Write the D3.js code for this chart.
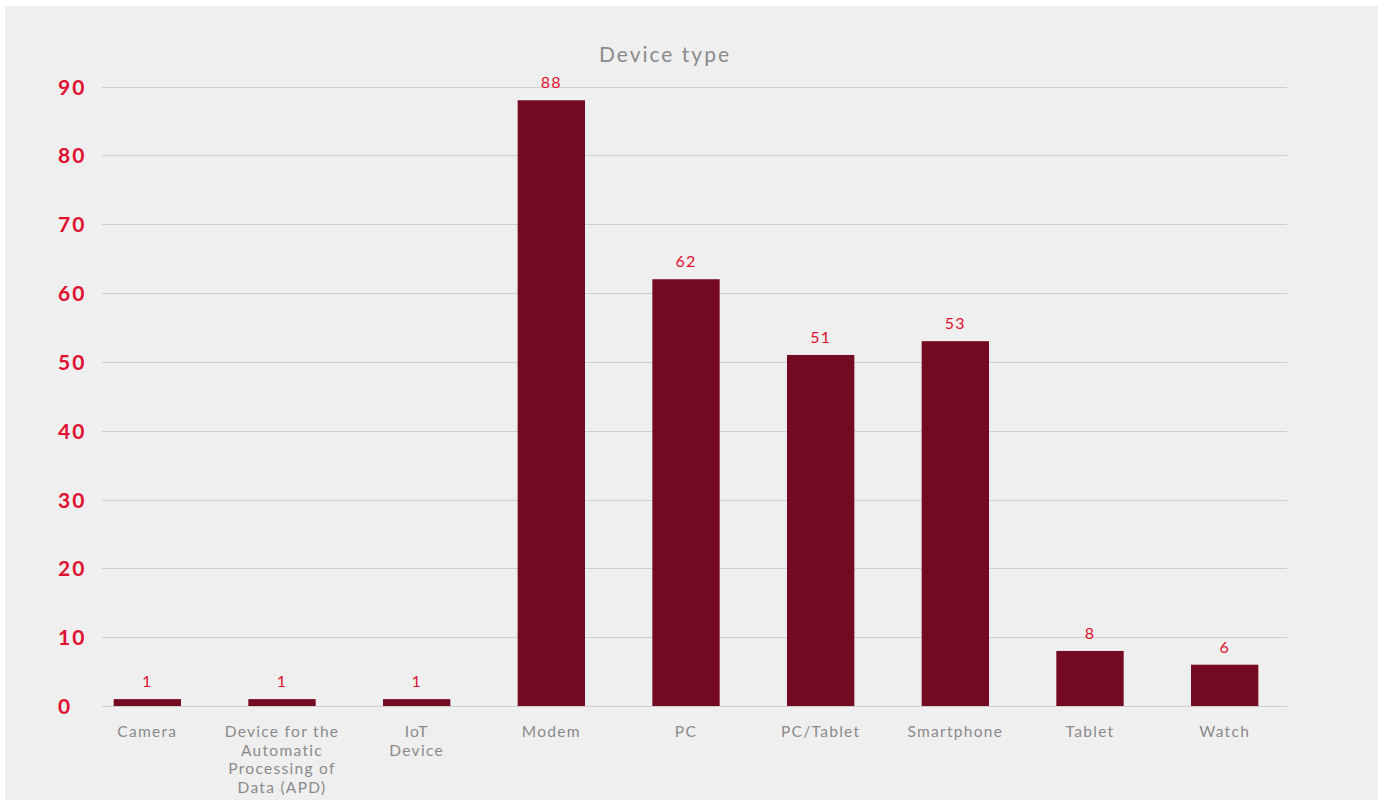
<!DOCTYPE html>
<html><head><meta charset="utf-8">
<script src="https://cdn.jsdelivr.net/npm/d3@7"></script>
<style>
html,body{margin:0;padding:0;background:#fff;}
svg{display:block;}
</style></head>
<body>
<svg id="chart" width="1384" height="800"></svg>
<script>
const categories = ["Camera", "Device for the Automatic Processing of Data (APD)", "IoT Device", "Modem", "PC", "PC/Tablet", "Smartphone", "Tablet", "Watch"];
const categoryLines = [["Camera"], ["Device for the", "Automatic", "Processing of", "Data (APD)"], ["IoT", "Device"], ["Modem"], ["PC"], ["PC/Tablet"], ["Smartphone"], ["Tablet"], ["Watch"]];
const values = [1, 1, 1, 88, 62, 51, 53, 8, 6];
const yTicks = [0, 10, 20, 30, 40, 50, 60, 70, 80, 90];
const title = "Device type";

const svg = d3.select("#chart");
const font = "Lato, 'Open Sans', sans-serif";

svg.append("rect").attr("x", 5).attr("y", 6).attr("width", 1373).attr("height", 800)
  .attr("fill", "#efefef");

const x = d3.scaleBand().domain(categories).range([80, 1292])
  .paddingInner(0.5).paddingOuter(0.25);
const y = d3.scaleLinear().domain([0, 90]).range([706, 86.5]);

const gridLeft = 102, gridRight = 1287;

// gridlines
svg.append("g").selectAll("line").data(yTicks).join("line")
  .attr("x1", gridLeft).attr("x2", gridRight)
  .attr("y1", d => Math.round(y(d)) + 0.5).attr("y2", d => Math.round(y(d)) + 0.5)
  .attr("stroke", "#cfcfcf").attr("stroke-width", 1.2);

// y axis labels (left-aligned)
const yAxis = d3.axisLeft(y).tickValues(yTicks).tickSize(0).tickPadding(0);
const gy = svg.append("g").attr("transform", "translate(58,0)").call(yAxis);
gy.select(".domain").remove();
gy.selectAll("text").attr("text-anchor", "start")
  .attr("fill", "#e0102f").attr("font-family", font)
  .attr("font-size", 21).attr("font-weight", 700).attr("letter-spacing", 2)
  .attr("dy", "0.36em");

// bars
svg.append("g").selectAll("rect").data(values).join("rect")
  .attr("x", (d, i) => x(categories[i]))
  .attr("width", x.bandwidth())
  .attr("y", d => y(d))
  .attr("height", d => y(0) - y(d))
  .attr("fill", "#740a22");

// value labels
svg.append("g").selectAll("text").data(values).join("text")
  .attr("x", (d, i) => x(categories[i]) + x.bandwidth() / 2)
  .attr("y", d => y(d) - 12)
  .attr("text-anchor", "middle")
  .attr("fill", "#e0102f").attr("font-family", font).attr("font-size", 16)
  .attr("letter-spacing", 1.2)
  .text(d => d);

// x category labels
const xl = svg.append("g").selectAll("text").data(categories).join("text")
  .attr("x", d => x(d) + x.bandwidth() / 2)
  .attr("y", 737)
  .attr("text-anchor", "middle")
  .attr("fill", "#8a8a8a").attr("font-family", font).attr("font-size", 15.5)
  .attr("letter-spacing", 1.3);
xl.each(function(d, i) {
  const t = d3.select(this);
  categoryLines[i].forEach((line, j) => {
    t.append("tspan").attr("x", x(d) + x.bandwidth() / 2)
      .attr("dy", j === 0 ? 0 : 18.7).text(line);
  });
});

// title
svg.append("text").attr("x", 665).attr("y", 62).attr("text-anchor", "middle")
  .attr("fill", "#8a8a8a").attr("font-family", font).attr("font-size", 21)
  .attr("letter-spacing", 2)
  .text(title);
</script>
</body></html>
